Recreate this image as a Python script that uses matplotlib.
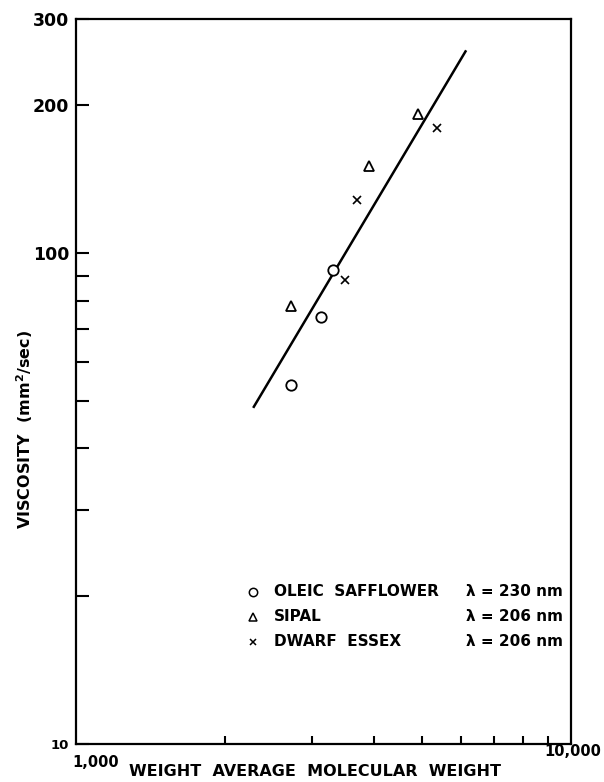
import matplotlib
matplotlib.use("Agg")
import matplotlib.pyplot as plt
from matplotlib.ticker import FixedLocator, NullFormatter
from matplotlib.transforms import offset_copy

plt.rcParams['font.family'] = ['DejaVu Sans']
plt.rcParams['font.weight'] = 'bold'

# ---- data ----
safflower_mw = [2720, 3130, 3300]
safflower_visc = [54.0, 74.0, 92.5]

sipal_mw = [2720, 3910, 4910]
sipal_visc = [78.0, 150.5, 192.0]

essex_mw = [3495, 3695, 5360]
essex_visc = [88.0, 128.5, 180.0]

fit_mw = [2280, 6140]
fit_visc = [48.4, 259.0]

legend_names = ["OLEIC  SAFFLOWER", "SIPAL", "DWARF  ESSEX"]
legend_lambda = ["λ = 230 nm", "λ = 206 nm", "λ = 206 nm"]
legend_markers = ["o", "^", "x"]

y_major = [10, 100, 200, 300]
y_major_labels = ["10", "100", "200", "300"]
y_minor = [20, 30, 40, 50, 60, 70, 80, 90]
x_minor = [2000, 3000, 4000, 5000, 6000, 7000, 8000, 9000]

fig = plt.figure(figsize=(6.04, 7.82), dpi=100)
ax = fig.add_axes([76/604, 1-744/782, (571-76)/604, (744-19)/782])
ax.set_xscale('log')
ax.set_yscale('log')
ax.set_xlim(1000, 10000)
ax.set_ylim(10, 300)

# fitted line
ax.plot(fit_mw, fit_visc, color='black', lw=1.8, solid_capstyle='butt')

# data points
ax.plot(safflower_mw, safflower_visc, linestyle='none', marker='o', ms=7.5,
        mfc='white', mec='black', mew=1.3)
ax.plot(sipal_mw, sipal_visc, linestyle='none', marker='^', ms=6.5,
        mfc='white', mec='black', mew=1.3)
ax.plot(essex_mw, essex_visc, linestyle='none', marker='x', ms=5.5,
        mec='black', mew=1.2)

# spines
for s in ax.spines.values():
    s.set_linewidth(1.6)

# y ticks
ax.yaxis.set_major_locator(FixedLocator(y_major))
ax.set_yticklabels(y_major_labels)
ax.yaxis.set_minor_locator(FixedLocator(y_minor))
ax.yaxis.set_minor_formatter(NullFormatter())
ax.tick_params(axis='y', which='both', direction='in', length=9.4, width=1.5,
               labelsize=12.5, pad=5, right=False, left=True)
for lbl in ax.get_yticklabels():
    if lbl.get_text() == "10":
        lbl.set_fontsize(9.5)
        lbl.set_fontweight('bold')
    else:
        lbl.set_fontweight('bold')

# x ticks
ax.xaxis.set_major_locator(FixedLocator([1000, 10000]))
ax.xaxis.set_major_formatter(NullFormatter())
ax.xaxis.set_minor_locator(FixedLocator(x_minor))
ax.xaxis.set_minor_formatter(NullFormatter())
ax.tick_params(axis='x', which='major', length=0)
ax.tick_params(axis='x', which='minor', direction='in', length=5.8, width=1.5,
               top=False)

xt = ax.get_xaxis_transform()
ax.text(1000, 0, "1,000", transform=offset_copy(xt, fig=fig, x=-3, y=-8, units='points'),
        ha='left', va='top', fontsize=10.5, fontweight='bold')
ax.text(10000, 0, "10,000", transform=offset_copy(xt, fig=fig, x=1, y=0, units='points'),
        ha='center', va='top', fontsize=10.5, fontweight='bold')

# axis labels
fig.text(315/604, 1-772/782, "WEIGHT  AVERAGE  MOLECULAR  WEIGHT",
         ha='center', va='center', fontsize=11.5, fontweight='bold')
fig.text(25/604, 1-430/782, "VISCOSITY  (mm$^\\mathbf{2}$/sec)", rotation=90,
         ha='center', va='center', fontsize=11.5, fontweight='bold')

# legend (drawn as text block)
rows_y = [0.2097, 0.1752, 0.1407]
for name, lam, mk, yy in zip(legend_names, legend_lambda, legend_markers, rows_y):
    if mk == 'x':
        ax.plot([0.3576], [yy], transform=ax.transAxes, marker='x', ms=4.5,
                mec='black', mew=1.1, linestyle='none', clip_on=False)
    else:
        ax.plot([0.3576], [yy], transform=ax.transAxes, marker=mk,
                ms=6 if mk == 'o' else 5.5, mfc='white', mec='black', mew=1.1,
                linestyle='none', clip_on=False)
    ax.text(0.40, yy, name, transform=ax.transAxes, ha='left', va='center',
            fontsize=11, fontweight='bold')
    ax.text(0.984, yy, lam, transform=ax.transAxes, ha='right', va='center',
            fontsize=11, fontweight='bold')

fig.savefig("out.png", dpi=100)
